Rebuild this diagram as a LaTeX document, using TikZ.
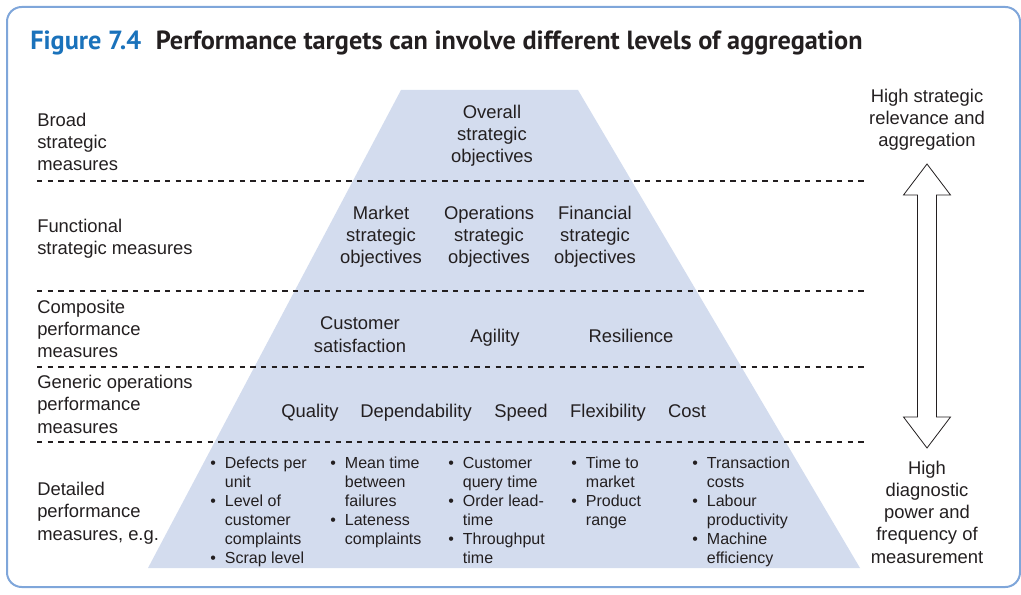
\documentclass[tikz,border=0pt]{standalone}
\usepackage{fontspec}
\setmainfont{Liberation Sans}
\newfontfamily\titlefont{PT Sans}
\usetikzlibrary{positioning}

\definecolor{frameblue}{HTML}{7FA6DA}
\definecolor{figblue}{HTML}{1A72BB}
\definecolor{pyrfill}{HTML}{D3DCEE}
\definecolor{ink}{HTML}{231F20}

\newcommand{\bul}[1]{\makebox[11pt][l]{\textbullet}#1}
\newcommand{\hng}[1]{\hspace*{11pt}#1}

\begin{document}
\begin{tikzpicture}[
  x=0.75pt, y=-0.75pt,
  lbl/.style={font=\fontsize{13.8}{16.6}\selectfont, text=ink, align=left, inner sep=0pt, anchor=base west},
  ctr/.style={font=\fontsize{13.8}{16.6}\selectfont, text=ink, align=center, inner sep=0pt, anchor=base},
  lst/.style={font=\fontsize{12}{14.25}\selectfont, text=ink, align=left, inner sep=0pt, anchor=base west},
  sep/.style={draw=ink, line width=1.5pt, dash pattern=on 4pt off 4pt},
  dbl/.style={draw=ink, line width=0.6pt, fill=white, line join=miter}
]
  \useasboundingbox (0,0) rectangle (1021,595);
  \draw[frameblue, line width=1.5pt, rounded corners=11pt] (7,7) rectangle (1020,587);

  % title
  \node[anchor=base west, inner sep=0pt, text=ink, font=\titlefont\bfseries\fontsize{19.7}{23}\selectfont] (title) at (30,50)
    {\textcolor{figblue}{Figure 7.4}\hspace{11pt}Performance targets can involve different levels of aggregation};

  % pyramid
  \fill[pyrfill] (401,90) -- (578,90) -- (860,568) -- (148,568) -- cycle;

  % level separators
  \foreach \yy in {181,291,367,442}
    \draw[sep] (37,\yy) -- (864,\yy);

  % left-hand levels (placed at the baseline of the last line)
  \node[lbl] (broad) at (37,171) {Broad\\strategic\\measures};
  \node[lbl] (func) at (37,255) {Functional\\strategic measures};
  \node[lbl] (comp) at (37,358) {Composite\\performance\\measures};
  \node[lbl] (gen) at (37,433) {Generic operations\\performance\\measures};
  \node[lbl] (det) at (37,540) {Detailed\\performance\\measures, e.g.};

  % inside the pyramid
  \node[ctr] (overall) at (492,163) {Overall\\strategic\\objectives};
  \node[ctr] (market) at (381,264) {Market\\strategic\\objectives};
  \node[ctr] (opsobj) at (489,264) {Operations\\strategic\\objectives};
  \node[ctr] (finobj) at (595,264) {Financial\\strategic\\objectives};
  \node[ctr] (custsat) at (360,352) {Customer\\satisfaction};
  \node[ctr] (agility) at (495,343) {Agility};
  \node[ctr] (resil) at (631,343) {Resilience};
  \node[ctr] (quality) at (310,417) {Quality};
  \node[ctr] (depend) at (416,417) {Dependability};
  \node[ctr] (speed) at (521,417) {Speed};
  \node[ctr] (flex) at (608,417) {Flexibility};
  \node[ctr] (cost) at (687,417) {Cost};

  % detailed measures
  \node[lst] (qlist) at (210,563) {\bul{Defects per}\\\hng{unit}\\\bul{Level of}\\\hng{customer}\\\hng{complaints}\\\bul{Scrap level}};
  \node[lst] (dlist) at (330,544) {\bul{Mean time}\\\hng{between}\\\hng{failures}\\\bul{Lateness}\\\hng{complaints}};
  \node[lst] (slist) at (448,563) {\bul{Customer}\\\hng{query time}\\\bul{Order lead-}\\\hng{time}\\\bul{Throughput}\\\hng{time}};
  \node[lst] (flist) at (571,525) {\bul{Time to}\\\hng{market}\\\bul{Product}\\\hng{range}};
  \node[lst] (clist) at (692,563) {\bul{Transaction}\\\hng{costs}\\\bul{Labour}\\\hng{productivity}\\\bul{Machine}\\\hng{efficiency}};

  % right-hand scale
  \node[ctr] (hiagg) at (927,147) {High strategic\\relevance and\\aggregation};
  \node[ctr] (hidiag) at (927,563) {High\\diagnostic\\power and\\frequency of\\measurement};
  \draw[dbl] (927,164) -- ++(23.5,31) -- ++(-14,0) -- ++(0,222) -- ++(14,0) -- ++(-23.5,31)
    -- ++(-23.5,-31) -- ++(14,0) -- ++(0,-222) -- ++(-14,0) -- cycle;
\end{tikzpicture}
\end{document}
